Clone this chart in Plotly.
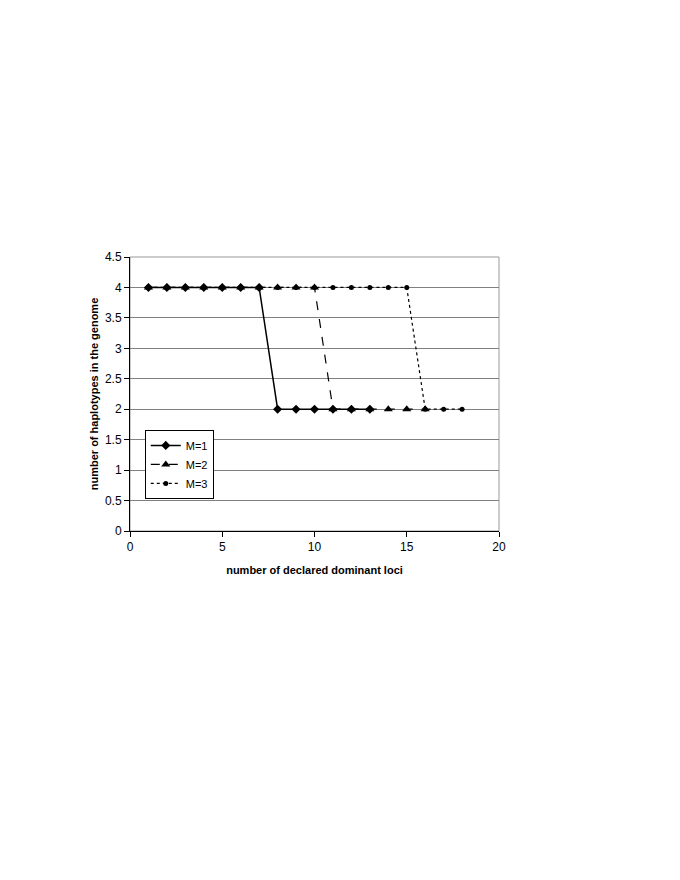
import plotly.graph_objects as go

x_m1 = list(range(1, 14))
y_m1 = [4, 4, 4, 4, 4, 4, 4, 2, 2, 2, 2, 2, 2]
x_m2 = list(range(1, 17))
y_m2 = [4, 4, 4, 4, 4, 4, 4, 4, 4, 4, 2, 2, 2, 2, 2, 2]
x_m3 = list(range(1, 19))
y_m3 = [4] * 15 + [2, 2, 2]
names = ["M=1", "M=2", "M=3"]

fig = go.Figure()
fig.add_trace(go.Scatter(x=x_m3, y=y_m3, name=names[2], mode="lines+markers",
                         line=dict(color="black", width=1.2, dash="dot"),
                         marker=dict(symbol="circle", size=5, color="black")))
fig.add_trace(go.Scatter(x=x_m2, y=y_m2, name=names[1], mode="lines+markers",
                         line=dict(color="black", width=1.2, dash="dash"),
                         marker=dict(symbol="triangle-up", size=8, color="black")))
fig.add_trace(go.Scatter(x=x_m1, y=y_m1, name=names[0], mode="lines+markers",
                         line=dict(color="black", width=1.5),
                         marker=dict(symbol="diamond", size=7, color="black")))

fig.update_layout(
    width=680, height=880,
    margin=dict(l=122, r=189, t=249, b=357),
    paper_bgcolor="white", plot_bgcolor="white",
    font=dict(family="Liberation Sans, Arial", size=12, color="black"),
    showlegend=True,
    legend=dict(x=0.04, y=0.369, xanchor="left", yanchor="top",
                bordercolor="black", borderwidth=1, bgcolor="white",
                traceorder="reversed", font=dict(size=11),
                itemwidth=30, tracegroupgap=0),
    shapes=[dict(type="rect", xref="paper", yref="paper", x0=0, x1=1, y0=0, y1=1,
                 line=dict(color="#999999", width=1), layer="below")],
)
fig.update_xaxes(range=[0, 20], dtick=5, showgrid=False, showline=True,
                 linecolor="black", linewidth=1, ticks="outside", ticklen=5,
                 tickcolor="black", zeroline=False,
                 title=dict(text="<b>number of declared dominant loci</b>", standoff=12,
                            font=dict(size=11)))
fig.update_yaxes(range=[0, 4.5], dtick=0.5, showgrid=True, gridcolor="#808080",
                 gridwidth=1, showline=True, linecolor="black", linewidth=1,
                 ticks="outside", ticklen=5, tickcolor="black", zeroline=False,
                 title=dict(text="<b>number of haplotypes in the genome</b>", standoff=4,
                            font=dict(size=11)))

fig.write_html("out.html")
